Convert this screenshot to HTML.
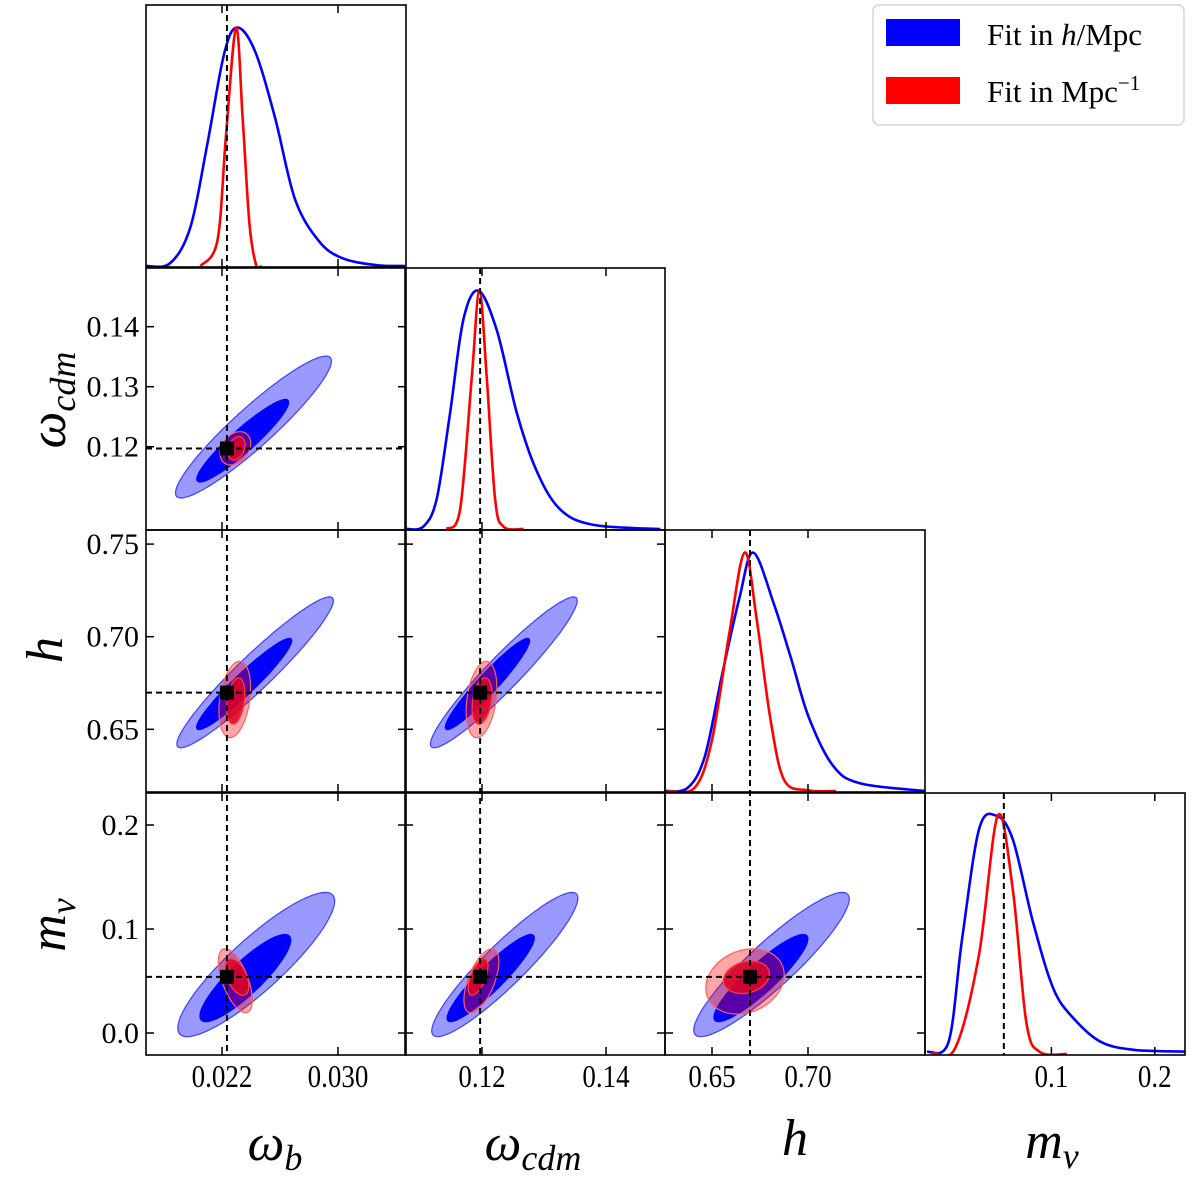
<!DOCTYPE html>
<html><head><meta charset="utf-8"><style>
html,body{margin:0;padding:0;background:#fff;}
svg{display:block;font-family:"Liberation Serif",serif;}
</style></head><body>
<svg id="chart" width="1200" height="1181" viewBox="0 0 1200 1181" xmlns="http://www.w3.org/2000/svg">
<defs id="defs"></defs>
<g id="g-fills"></g><g id="g-lines"></g><g id="g-frames"></g><g id="g-text"></g>
<g>
 <rect x="873" y="5" width="311" height="120" rx="6" fill="#fff" stroke="#d5d5d5" stroke-width="1.5"/>
 <rect x="886" y="19" width="74" height="27" fill="#0000ff"/>
 <text x="987" y="45" font-size="31">Fit in <tspan font-style="italic">h</tspan>/Mpc</text>
 <rect x="886" y="77" width="74" height="27" fill="#ff0000"/>
 <text x="987" y="102" font-size="31">Fit in Mpc<tspan dy="-12" font-size="21">−1</tspan></text>
</g>
</svg>
<script>
// ---- data ----
const paramNames = ["omega_b","omega_cdm","h","m_nu"];
const truthValues = [0.02234, 0.1197, 0.6698, 0.0540];
const tickLabelsX = [["0.022","0.030"],["0.12","0.14"],["0.65","0.70"],["0.1","0.2"]];
const tickValsX = [[0.022,0.030],[0.12,0.14],[0.65,0.70],[0.1,0.2]];
const tickLabelsY = [[],["0.12","0.13","0.14"],["0.65","0.70","0.75"],["0.0","0.1","0.2"]];
const tickValsY = [[],[0.12,0.13,0.14],[0.65,0.70,0.75],[0.0,0.1,0.2]];
// 1D posteriors: knots (value, normalized density)
const blueX0 = [0.01676,0.01843,0.01983,0.02099,0.02215,0.02303,0.02424,0.02563,0.02703,0.02866,0.03028,0.0326,0.03462];
const blueD0 = [0,0.012,0.164,0.513,0.891,1,0.906,0.629,0.281,0.106,0.033,0.004,0];
const redX0 = [0.02052,0.02168,0.02227,0.02297,0.02343,0.02389,0.02435,0.0247];
const redD0 = [0,0.106,0.542,1,0.615,0.179,0.004,0];
const blueX1 = [0.10784,0.11053,0.11269,0.11485,0.11699,0.11942,0.12238,0.12562,0.12885,0.13262,0.138,0.14878];
const blueD1 = [0,0.01,0.126,0.487,0.877,1,0.834,0.487,0.241,0.082,0.017,0];
const redX1 = [0.1143,0.11646,0.11834,0.11958,0.12077,0.12211,0.12346,0.12669];
const redD1 = [0,0.082,0.632,1,0.632,0.126,0.01,0];
const blueX2 = [0.62562,0.63729,0.6463,0.65531,0.66427,0.67146,0.68229,0.69125,0.70026,0.71286,0.72724,0.76104];
const blueD2 = [0,0.013,0.146,0.49,0.809,1,0.783,0.554,0.312,0.108,0.032,0];
const redX2 = [0.62651,0.64089,0.6499,0.65891,0.66698,0.67328,0.68047,0.68766,0.70,0.71458];
const redD2 = [0,0.013,0.21,0.656,1,0.72,0.3,0.045,0.003,0];
const blueX3 = [-0.0203,0.00058,0.01364,0.03,0.04642,0.06267,0.0823,0.10193,0.12157,0.14768,0.18037,0.2292];
const blueD3 = [0.009,0.051,0.483,0.942,1,0.9,0.552,0.274,0.149,0.051,0.017,0.01];
const redX3 = [-0.01576,0.0069,0.02988,0.04816,0.06267,0.07573,0.08878,0.115];
const redD3 = [0.009,0.024,0.414,1,0.69,0.134,0.009,0];
// 2D contours: [xParam, yParam, cx, cy, sx, sy, rho]
const blueOuter = [[0,1,0.02417,0.12328,0.00538,0.01183,0.93],[0,2,0.02428,0.68075,0.0054,0.04075,0.95],[0,3,0.02436,0.06584,0.00541,0.06938,0.88],
  [1,2,0.12352,0.68075,0.01184,0.04075,0.95],[1,3,0.12368,0.06584,0.01179,0.06938,0.92],[2,3,0.68099,0.06584,0.04051,0.06938,0.91]];
const blueInner = [[0,1,0.02343,0.121,0.00317,0.00688,0.93],[0,2,0.02353,0.67446,0.00328,0.02462,0.95],[0,3,0.02361,0.05282,0.00313,0.04191,0.87],
  [1,2,0.12088,0.67446,0.0068,0.02462,0.95],[1,3,0.12141,0.05282,0.00704,0.04191,0.92],[2,3,0.67547,0.05282,0.02448,0.04191,0.9]];
const redOuter = [[0,1,0.02292,0.11973,0.00106,0.00278,0.3],[0,2,0.02288,0.66612,0.00109,0.0206,0.3],[0,3,0.02292,0.05024,0.00117,0.03081,-0.6],
  [1,2,0.11992,0.66612,0.00248,0.0206,0.3],[1,3,0.1199,0.05024,0.00282,0.03081,0.6],[2,3,0.66719,0.04957,0.02042,0.03139,0.2]];
const redInner = [[0,1,0.02299,0.11973,0.0006,0.00195,0.3],[0,2,0.02295,0.66527,0.00063,0.01253,0.3],[0,3,0.02303,0.05388,0.00082,0.01756,-0.5],
  [1,2,0.1200,0.66527,0.0016,0.01253,0.3],[1,3,0.11937,0.05388,0.0016,0.01756,0.6],[2,3,0.66792,0.05359,0.01198,0.0156,0.2]];

// ---- layout / axes ----
const colL=[146,405,665,925], rowT=[5,268,530,793], PW=260, PH=262;
const xRef=[[0.022,222,0.030,338],[0.12,482,0.14,606],[0.65,712,0.70,808],[0.1,1051.4,0.2,1154.8]];
const yRef=[null,[0.12,446.7,0.14,326.7],[0.65,729.3,0.70,636.7],[0.0,1033,0.1,929]];
function X(p,v){const r=xRef[p];return r[1]+(v-r[0])*(r[3]-r[1])/(r[2]-r[0]);}
function Y(p,v){const r=yRef[p];return r[1]+(v-r[0])*(r[3]-r[1])/(r[2]-r[0]);}
const NS="http://www.w3.org/2000/svg";
function mk(tag,attrs,parent){const e=document.createElementNS(NS,tag);for(const k in attrs)e.setAttribute(k,attrs[k]);parent.appendChild(e);return e;}
const defs=document.getElementById('defs'),gF=document.getElementById('g-fills'),gL=document.getElementById('g-lines'),gR=document.getElementById('g-frames'),gT=document.getElementById('g-text');
for(let r=0;r<4;r++)for(let c=0;c<=r;c++){const cp=mk('clipPath',{id:'cp'+r+c},defs);mk('rect',{x:colL[c],y:rowT[r],width:PW,height:PH},cp);}
function smooth(pts){let d='M'+pts[0][0].toFixed(1)+','+pts[0][1].toFixed(1);
 for(let i=0;i<pts.length-1;i++){const p0=pts[Math.max(0,i-1)],p1=pts[i],p2=pts[i+1],p3=pts[Math.min(pts.length-1,i+2)];
  d+=' C'+(p1[0]+(p2[0]-p0[0])/6).toFixed(1)+','+(p1[1]+(p2[1]-p0[1])/6).toFixed(1)+' '+(p2[0]-(p3[0]-p1[0])/6).toFixed(1)+','+(p2[1]-(p3[1]-p1[1])/6).toFixed(1)+' '+p2[0].toFixed(1)+','+p2[1].toFixed(1);}
 return d;}
function ellPath(e){const [px,py,cx,cy,sx,sy,rho]=e;let d='';const q=Math.sqrt(1-rho*rho);
 for(let i=0;i<=72;i++){const t=i/72*2*Math.PI;const vx=cx+sx*Math.cos(t),vy=cy+sy*(rho*Math.cos(t)+q*Math.sin(t));
  d+=(i?'L':'M')+X(px,vx).toFixed(1)+','+Y(py,vy).toFixed(1);}return d+'Z';}
function drawEll(list,fill,stroke,name){list.forEach(e=>{const r=e[1],c=e[0];
 const p=mk('path',{d:ellPath(e),fill:fill,stroke:stroke,'stroke-width':1.2,'clip-path':'url(#cp'+r+c+')'},gF);
 
 });}
drawEll(blueOuter,'rgba(0,0,255,0.4)','#3f3fff','blue-contour-2sigma');
drawEll(blueInner,'#0000ff','#0000ff','blue-contour-1sigma');
drawEll(redOuter,'rgba(255,0,0,0.35)','#ff6060','red-contour-2sigma');
drawEll(redInner,'rgba(225,0,30,0.85)','#ff4040','red-contour-1sigma');
const oneD=[[blueX0,blueD0,redX0,redD0],[blueX1,blueD1,redX1,redD1],[blueX2,blueD2,redX2,redD2],[blueX3,blueD3,redX3,redD3]];
oneD.forEach((s,i)=>{const base=rowT[i]+PH-1;
 [[s[0],s[1],'#0000ff','blue'],[s[2],s[3],'#ff0000','red']].forEach(q=>{
  const pts=q[0].map((v,k)=>[X(i,v),base-q[1][k]*0.91*PH]);
  const p=mk('path',{d:smooth(pts),fill:'none',stroke:q[2],'stroke-width':2.6,'clip-path':'url(#cp'+i+i+')'},gL);
  
  });});
for(let c=0;c<4;c++){const x=X(c,truthValues[c]);
 const l=mk('line',{x1:x,y1:rowT[c],x2:x,y2:rowT[3]+PH,stroke:'#000','stroke-width':2,'stroke-dasharray':'6,4'},gL);
 
 }
for(let r=1;r<4;r++){const y=Y(r,truthValues[r]);
 const l=mk('line',{x1:colL[0],y1:y,x2:colL[r],y2:y,stroke:'#000','stroke-width':2,'stroke-dasharray':'6,4'},gL);
 
 
 for(let c=0;c<r;c++){const s=mk('rect',{x:X(c,truthValues[c])-7,y:y-7,width:14,height:14,fill:'#000'},gL);
  
  }}
for(let r=0;r<4;r++)for(let c=0;c<=r;c++){const x0=colL[c],y0=rowT[r];
 const f=mk('rect',{x:x0,y:y0,width:PW,height:PH,fill:'none',stroke:'#000','stroke-width':1.6},gR);
 
 
 tickValsX[c].forEach(v=>{const x=X(c,v);if(x<x0||x>x0+PW)return;
  mk('line',{x1:x,y1:y0+PH,x2:x,y2:y0+PH-8,stroke:'#000','stroke-width':1.5},gR);
  mk('line',{x1:x,y1:y0,x2:x,y2:y0+8,stroke:'#000','stroke-width':1.5},gR);});
 if(r>c)tickValsY[r].forEach(v=>{const y=Y(r,v);
  mk('line',{x1:x0,y1:y,x2:x0+8,y2:y,stroke:'#000','stroke-width':1.5},gR);
  mk('line',{x1:x0+PW,y1:y,x2:x0+PW-8,y2:y,stroke:'#000','stroke-width':1.5},gR);});}
for(let c=0;c<4;c++)tickLabelsX[c].forEach((s,k)=>{const t=mk('text',{x:X(c,tickValsX[c][k]),y:1087,'font-size':30,'text-anchor':'middle','transform-origin':X(c,tickValsX[c][k])+'px 1087px',transform:'scale(0.9,1.05)'},gT);t.textContent=s;
 
 });
for(let r=1;r<4;r++)tickLabelsY[r].forEach((s,k)=>{const t=mk('text',{x:139,y:Y(r,tickValsY[r][k])+10,'font-size':30,'text-anchor':'end'},gT);t.textContent=s;
 
 });
</script>
<div style="position:absolute;left:0;top:0;width:1200px;height:1181px;pointer-events:none;">
<svg width="1200" height="1181" style="position:absolute;left:0;top:0" font-family="Liberation Serif, serif" font-style="italic">
 <text x="275" y="1160" font-size="52" text-anchor="middle">ω<tspan font-size="36" dy="10">b</tspan></text>
 <text x="533" y="1160" font-size="52" text-anchor="middle">ω<tspan font-size="36" dy="10">cdm</tspan></text>
 <text x="795" y="1155" font-size="52" text-anchor="middle">h</text>
 <text x="1052" y="1158" font-size="52" text-anchor="middle">m<tspan font-size="36" dy="10">ν</tspan></text>
 <text transform="translate(65,400) rotate(-90)" font-size="52" text-anchor="middle">ω<tspan font-size="36" dy="10">cdm</tspan></text>
 <text transform="translate(62,650) rotate(-90)" font-size="52" text-anchor="middle">h</text>
 <text transform="translate(65,925) rotate(-90)" font-size="52" text-anchor="middle">m<tspan font-size="36" dy="10">ν</tspan></text>
</svg></div>
</body></html>
